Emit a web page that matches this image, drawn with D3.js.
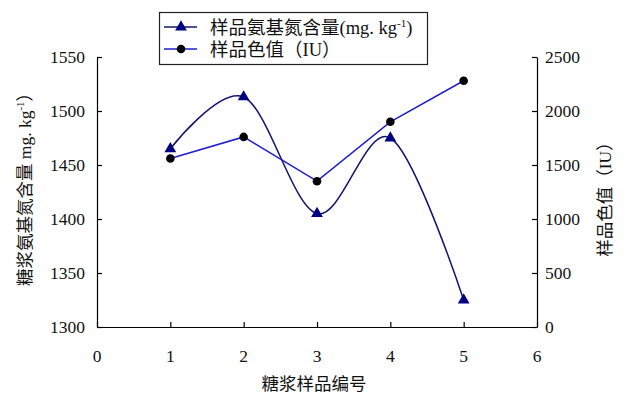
<!DOCTYPE html>
<html>
<head>
    <meta charset="utf-8">
    <script src="https://d3js.org/d3.v7.min.js"></script>
    <style>
        body { margin: 0; background: #fff; }
        text { font-family: "Liberation Serif", "Noto Sans CJK SC", serif; fill: #111; }
        .axis path, .axis line { stroke: #000; stroke-width: 1.2px; }
    </style>
</head>
<body>
    <div id="chart"></div>
    <script>
        // sample numbers and readings
        let samples = [1, 2, 3, 4, 5];
        let aminoN = [1465, 1513, 1405, 1475, 1325];
        let colorIU = [1560, 1760, 1350, 1900, 2280];
        let xTicks = [0, 1, 2, 3, 4, 5, 6];
        let leftTicks = [1300, 1350, 1400, 1450, 1500, 1550];
        let rightTicks = [0, 500, 1000, 1500, 2000, 2500];

        let width = 631, height = 395;
        let plotL = 97, plotR = 537, plotT = 57, plotB = 327;
        let fs = "17.5px";

        let svg = d3.select("#chart").append("svg")
            .attr("width", width)
            .attr("height", height);

        let x = d3.scaleLinear().domain([0, 6]).range([plotL, plotR]);
        let yL = d3.scaleLinear().domain([1300, 1550]).range([plotB, plotT]);
        let yR = d3.scaleLinear().domain([0, 2500]).range([plotB, plotT]);

        // axes, ticks pointing inward
        svg.append("g").attr("class", "axis")
            .attr("transform", `translate(0,${plotB})`)
            .call(d3.axisTop(x).tickValues(xTicks).tickSize(5).tickSizeOuter(0).tickFormat(""));
        svg.append("g").attr("class", "axis")
            .attr("transform", `translate(${plotL},0)`)
            .call(d3.axisRight(yL).tickValues(leftTicks).tickSize(5).tickSizeOuter(0).tickFormat(""));
        svg.append("g").attr("class", "axis")
            .attr("transform", `translate(${plotR},0)`)
            .call(d3.axisLeft(yR).tickValues(rightTicks).tickSize(5).tickSizeOuter(0).tickFormat(""));

        // tick labels
        svg.selectAll(".xl").data(xTicks).enter().append("text")
            .attr("x", d => x(d)).attr("y", plotB + 35)
            .attr("text-anchor", "middle").style("font-size", fs)
            .text(d => d);
        svg.selectAll(".yl").data(leftTicks).enter().append("text")
            .attr("x", plotL - 12).attr("y", d => yL(d) + 6)
            .attr("text-anchor", "end").style("font-size", fs)
            .text(d => d);
        svg.selectAll(".yr").data(rightTicks).enter().append("text")
            .attr("x", plotR + 8).attr("y", d => yR(d) + 6)
            .attr("text-anchor", "start").style("font-size", fs)
            .text(d => d);

        // axis titles
        svg.append("text")
            .attr("x", 314).attr("y", 390)
            .attr("text-anchor", "middle").style("font-size", fs)
            .text("糖浆样品编号");
        let lt = svg.append("text")
            .attr("transform", "translate(31,185) rotate(-90)")
            .attr("text-anchor", "middle").style("font-size", fs);
        lt.append("tspan").text("糖浆氨基氮含量 mg. kg");
        lt.append("tspan").attr("dy", -7).style("font-size", "11px").text("-1");
        lt.append("tspan").attr("dy", 7).text("）");
        svg.append("text")
            .attr("transform", "translate(611,195) rotate(-90)")
            .attr("text-anchor", "middle").style("font-size", fs)
            .text("样品色值（IU）");

        // series
        let pts1 = samples.map((s, i) => [s, aminoN[i]]);
        let pts2 = samples.map((s, i) => [s, colorIU[i]]);

        svg.append("path")
            .attr("d", d3.line().x(d => x(d[0])).y(d => yL(d[1])).curve(d3.curveCardinal.tension(0))(pts1))
            .attr("fill", "none").attr("stroke", "#14146e").attr("stroke-width", 1.5);
        svg.append("path")
            .attr("d", d3.line().x(d => x(d[0])).y(d => yR(d[1]))(pts2))
            .attr("fill", "none").attr("stroke", "#1f1fd0").attr("stroke-width", 1.5);

        let tri = d3.symbol().type(d3.symbolTriangle).size(60);
        svg.selectAll(".tri").data(pts1).enter().append("path")
            .attr("d", tri)
            .attr("transform", d => `translate(${x(d[0])},${yL(d[1])})`)
            .attr("fill", "#000080");
        svg.selectAll(".dot").data(pts2).enter().append("circle")
            .attr("cx", d => x(d[0])).attr("cy", d => yR(d[1]))
            .attr("r", 4.3).attr("fill", "#000");

        // legend
        let lg = svg.append("g");
        lg.append("rect")
            .attr("x", 159.5).attr("y", 12.5).attr("width", 268).attr("height", 52)
            .attr("fill", "#fff").attr("stroke", "#222").attr("stroke-width", 1.2);
        lg.append("line").attr("x1", 164).attr("x2", 197).attr("y1", 27).attr("y2", 27)
            .attr("stroke", "#14146e").attr("stroke-width", 1.5);
        lg.append("path").attr("d", tri).attr("transform", "translate(181,27)").attr("fill", "#000080");
        lg.append("line").attr("x1", 164).attr("x2", 197).attr("y1", 49).attr("y2", 49)
            .attr("stroke", "#1f1fd0").attr("stroke-width", 1.5);
        lg.append("circle").attr("cx", 181).attr("cy", 49).attr("r", 4.3).attr("fill", "#000");
        let l1 = lg.append("text").attr("x", 210).attr("y", 34).style("font-size", "18.5px");
        l1.append("tspan").text("样品氨基氮含量(mg. kg");
        l1.append("tspan").attr("dy", -7).style("font-size", "11px").text("-1");
        l1.append("tspan").attr("dy", 7).text(")");
        lg.append("text").attr("x", 210).attr("y", 56).style("font-size", "18.5px")
            .text("样品色值（IU）");
    </script>
</body>
</html>
